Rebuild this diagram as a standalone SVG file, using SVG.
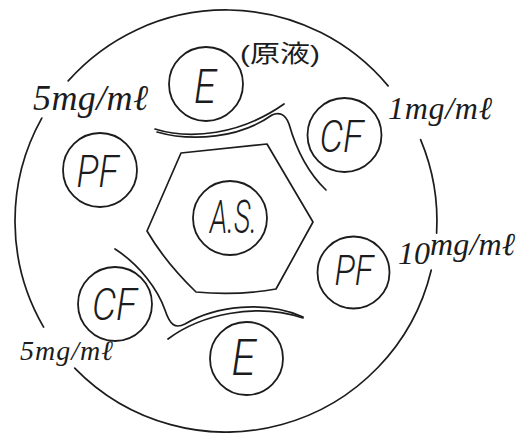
<svg xmlns="http://www.w3.org/2000/svg" width="518" height="433" viewBox="0 0 518 433">
<style>
.ln{fill:none;stroke:#1c1c1c;stroke-width:1.7;stroke-linecap:round;stroke-linejoin:round}
.disc{fill:none;stroke:#1c1c1c;stroke-width:1.8}
.lbl{font-family:Roboto,"Liberation Sans",sans-serif;font-weight:300;font-style:italic;fill:#1c1c1c;text-anchor:middle}
.conc{font-family:"Liberation Serif","DejaVu Serif",serif;font-style:italic;fill:#1c1c1c}
.jp{font-family:"Liberation Sans","Noto Sans CJK JP",sans-serif;fill:#1c1c1c}
</style>
<rect width="518" height="433" fill="#ffffff"/>
<g id="plate">
<path class="ln" d="M420.6,139.6 A211,211 0 0 1 436.6,233.1"/>
<path class="ln" d="M431.2,270.2 A211,211 0 0 1 74.7,368.1"/>
<path class="ln" d="M43.6,327.1 A211,211 0 0 1 41.8,118.1"/>
<path class="ln" d="M68.2,80.9 A211,211 0 0 1 388.1,85.9"/>
</g>
<g id="well-center">
<path class="ln" d="M181,153 L267,144 L313,222 L276,289 Q236,296 196,292 Q165,262 147,231 Z"/>
</g>
<g id="connectors">
<path class="ln" d="M155,129 C190,140 240,135 284,104"/>
<path class="ln" d="M157,132 C192,142 240,138 272,115 C278,112 285,113 289,124 C295,145 305,170 326,190"/>
<path class="ln" d="M115,249 C140,265 158,290 165,310 C170,325 175,329 185,324 C215,306 265,300 303,317"/>
<path class="ln" d="M168,339 C200,315 255,302 303,318"/>
</g>
<g id="node-as">
<circle class="disc" cx="230" cy="218" r="37"/>
<text class="lbl" x="233.5" y="233" font-size="46" textLength="47" lengthAdjust="spacingAndGlyphs">A.S.</text>
</g>
<g id="node-e-top">
<circle class="disc" cx="206" cy="84" r="37"/>
<text class="lbl" x="205" y="103" font-size="48" textLength="22" lengthAdjust="spacingAndGlyphs">E</text>
</g>
<g id="node-cf-right">
<circle class="disc" cx="344.5" cy="135" r="37"/>
<text class="lbl" x="341.5" y="152" font-size="45" textLength="44" lengthAdjust="spacingAndGlyphs">CF</text>
</g>
<g id="node-pf-right">
<circle class="disc" cx="353.5" cy="272.5" r="36"/>
<text class="lbl" x="354" y="285" font-size="43" textLength="39" lengthAdjust="spacingAndGlyphs">PF</text>
</g>
<g id="node-e-bottom">
<circle class="disc" cx="246.5" cy="358.5" r="36.5"/>
<text class="lbl" x="243.5" y="375" font-size="49" textLength="24" lengthAdjust="spacingAndGlyphs">E</text>
</g>
<g id="node-cf-left">
<circle class="disc" cx="115" cy="304" r="37"/>
<text class="lbl" x="114.5" y="320" font-size="45" textLength="45" lengthAdjust="spacingAndGlyphs">CF</text>
</g>
<g id="node-pf-left">
<circle class="disc" cx="100" cy="170" r="37"/>
<text class="lbl" x="97.5" y="187" font-size="45" textLength="42" lengthAdjust="spacingAndGlyphs">PF</text>
</g>
<g id="labels">
<text class="jp" x="240" y="62" font-size="24" textLength="80" lengthAdjust="spacingAndGlyphs">(原液)</text>
<text class="conc" x="33" y="110" font-size="36" textLength="115" lengthAdjust="spacing">5mg/mℓ</text>
<text class="conc" x="388" y="119" font-size="32" textLength="104" lengthAdjust="spacing">1mg/mℓ</text>
<text class="conc" x="398" y="264" font-size="32">10</text>
<text class="conc" x="430" y="255" font-size="32" textLength="85" lengthAdjust="spacing">mg/mℓ</text>
<text class="conc" x="20" y="360" font-size="28" textLength="93" lengthAdjust="spacing">5mg/mℓ</text>
</g>
</svg>
